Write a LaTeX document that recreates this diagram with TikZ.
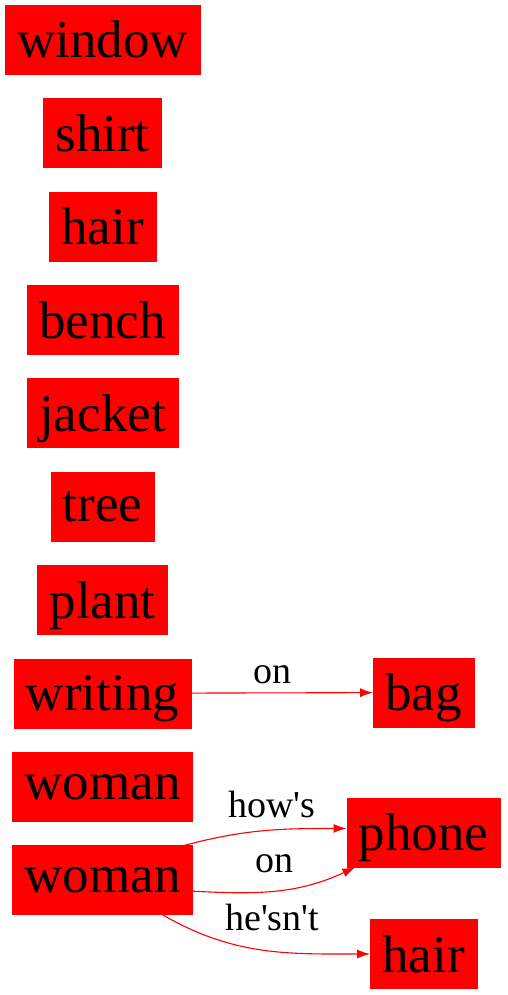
\documentclass[tikz,border=0pt]{standalone}
\usepackage{fontspec}
\setmainfont{Liberation Serif}
\usepackage{tikz}
\usetikzlibrary{positioning,arrows.meta}
\definecolor{GRed}{HTML}{FF0000}

\begin{document}
\begin{tikzpicture}[x=1pt,y=1pt,>={Latex[length=13pt,width=9pt]},node distance=24pt]
  \tikzstyle{objbox}=[draw=GRed,fill=GRed,inner xsep=12pt,inner ysep=0pt,
    minimum height=69pt,text depth=0pt,font=\fontsize{53}{57}\selectfont]
  \tikzstyle{rel}=[color=GRed,line width=1.1pt,->]
  \tikzstyle{rellbl}=[text=black,font=\fontsize{38}{40}\selectfont,inner sep=2pt]
  \useasboundingbox (0,0) rectangle (507,-995);
  \node[objbox] (window) at (102.5,-39.5) {window};
  \node[objbox,below=of window] (shirt) {shirt};
  \node[objbox,below=of shirt] (hair) {hair};
  \node[objbox,below=of hair] (bench) {bench};
  \node[objbox,below=of bench] (jacket) {jacket};
  \node[objbox,below=of jacket] (tree) {tree};
  \node[objbox,below=of tree] (plant) {plant};
  \node[objbox,below=of plant] (writing) {writing};
  \node[objbox,below=of writing] (womanA) {woman};
  \node[objbox,below=of womanA] (womanB) {woman};
  \node[objbox] (bag) at (423.5,-692.5) {bag};
  \node[objbox] (phone) at (423.5,-832.5) {phone};
  \node[objbox] (hairB) at (423.5,-954) {hair};
  \draw[rel] (writing) -- node[rellbl,above=6pt,xshift=-10pt] {on} (bag);
  \draw[rel] (womanB.23) to[out=15,in=180]
    node[rellbl,above=10pt,pos=0.5,xshift=7pt] {how\textquotesingle s} (phone.177);
  \draw[rel] (womanB.-7) to[out=-3,in=205]
    node[rellbl,above=16pt,pos=0.45,xshift=6pt] {on} (phone.207);
  \draw[rel] (womanB.-30) to[out=-30,in=180]
    node[rellbl,above=16pt,pos=0.5,xshift=10pt] {he\textquotesingle sn\textquotesingle t} (hairB.west);
\end{tikzpicture}
\end{document}
